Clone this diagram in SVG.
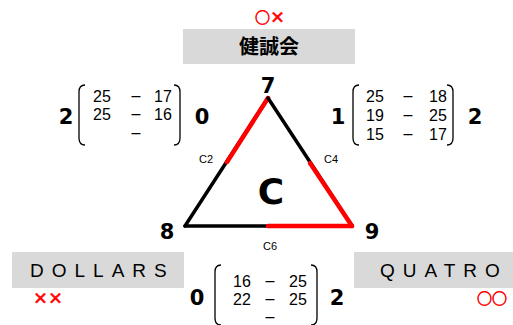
<svg xmlns="http://www.w3.org/2000/svg" width="513" height="325" viewBox="0 0 513 325">
<style>
.box{fill:#d9d9d9}
.big{font-family:"DejaVu Sans",sans-serif;font-weight:bold;font-size:21px;text-anchor:middle}
.m{font-family:"Liberation Sans",Arial,sans-serif;font-size:16px;text-anchor:middle}
.lbl{font-family:"Liberation Sans",Arial,sans-serif;font-size:11px;text-anchor:middle}
.name{font-family:"Liberation Sans",Arial,sans-serif;font-size:19px;letter-spacing:8px}
.mark{font-family:"Noto Sans CJK JP",sans-serif;font-size:15px;font-weight:bold;fill:#ff0000;stroke:#ff0000;stroke-width:0.6;text-anchor:middle}
.par{fill:none;stroke:#000;stroke-width:1.3}
.blk{stroke:#000;stroke-width:3.5;stroke-linecap:round}
.red{stroke:#ff0000;stroke-width:4.5;stroke-linecap:round}
</style>
<g id="top-team">
<rect class="box" x="183" y="29" width="172" height="35"/>
<text x="269" y="54" font-family="'Noto Sans CJK JP',sans-serif" font-weight="bold" font-size="20" text-anchor="middle">健誠会</text>
<text class="mark" x="270" y="23">○×</text>
</g>
<g id="left-team">
<rect class="box" x="12" y="252" width="172" height="36"/>
<text class="name" x="30" y="277">DOLLARS</text>
<text class="mark" x="48" y="304">××</text>
</g>
<g id="right-team">
<rect class="box" x="354" y="252" width="159" height="36"/>
<text class="name" x="380" y="277">QUATRO</text>
<text class="mark" x="492" y="304">○○</text>
</g>
<g id="connectors">
<line class="blk" x1="185" y1="226" x2="268" y2="98"/>
<line class="red" x1="227" y1="162" x2="268" y2="98"/>
<line class="blk" x1="268" y1="98" x2="352" y2="226"/>
<line class="red" x1="310" y1="163" x2="352" y2="226"/>
<line class="blk" x1="185" y1="226" x2="352" y2="226"/>
<line class="red" x1="268" y1="226" x2="352" y2="226"/>
</g>
<g id="triangle-labels">
<text class="big" x="268" y="93">7</text>
<text class="big" x="167" y="239">8</text>
<text class="big" x="372" y="239">9</text>
<text class="lbl" x="206" y="163">C2</text>
<text class="lbl" x="331" y="163">C4</text>
<text class="lbl" x="270" y="250">C6</text>
<text x="271" y="204" font-family="'DejaVu Sans',sans-serif" font-weight="bold" font-size="36" text-anchor="middle">C</text>
</g>
<g id="matrix-left">
<text class="big" x="66" y="124">2</text>
<path class="par" d="M85 85 Q79 85 79 92 L79 138 Q79 145 85 145"/>
<text class="m" x="102" y="102">25</text><text class="m" x="136" y="101">–</text><text class="m" x="163" y="102">17</text>
<text class="m" x="102" y="120">25</text><text class="m" x="136" y="119">–</text><text class="m" x="163" y="120">16</text>
<text class="m" x="136" y="138">–</text>
<path class="par" d="M174 85 Q180 85 180 92 L180 138 Q180 145 174 145"/>
<text class="big" x="202" y="124">0</text>
</g>
<g id="matrix-right">
<text class="big" x="338" y="124">1</text>
<path class="par" d="M359 85 Q353 85 353 92 L353 138 Q353 145 359 145"/>
<text class="m" x="375" y="102">25</text><text class="m" x="408" y="101">–</text><text class="m" x="438" y="102">18</text>
<text class="m" x="375" y="121">19</text><text class="m" x="408" y="120">–</text><text class="m" x="438" y="121">25</text>
<text class="m" x="375" y="140">15</text><text class="m" x="408" y="139">–</text><text class="m" x="438" y="140">17</text>
<path class="par" d="M447 85 Q453 85 453 92 L453 138 Q453 145 447 145"/>
<text class="big" x="475" y="124">2</text>
</g>
<g id="matrix-bottom">
<text class="big" x="197" y="305">0</text>
<path class="par" d="M221 265 Q215 265 215 272 L215 318 Q215 325 221 325"/>
<text class="m" x="242" y="287">16</text><text class="m" x="270" y="286">–</text><text class="m" x="298" y="287">25</text>
<text class="m" x="242" y="305">22</text><text class="m" x="270" y="304">–</text><text class="m" x="298" y="305">25</text>
<text class="m" x="270" y="322">–</text>
<path class="par" d="M311 265 Q317 265 317 272 L317 318 Q317 325 311 325"/>
<text class="big" x="337" y="305">2</text>
</g>
</svg>
